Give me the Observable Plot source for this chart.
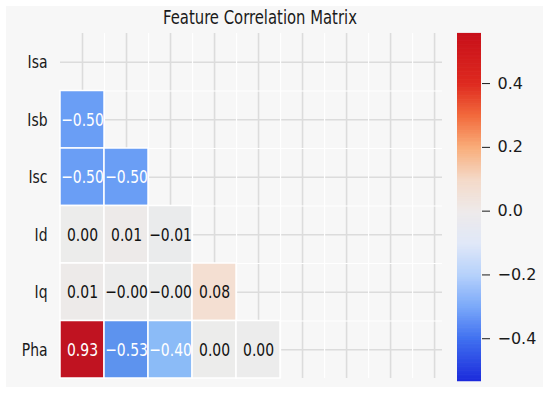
<!DOCTYPE html>
<html>
<head>
<meta charset="utf-8">
<script src="https://cdn.jsdelivr.net/npm/d3@7"></script>
<script src="https://cdn.jsdelivr.net/npm/@observablehq/plot@0.6"></script>
<style>
  html, body { margin: 0; padding: 0; background: #ffffff; }
  #wrap { position: relative; width: 550px; height: 394px; overflow: hidden; background: #ffffff; }
  #panel { position: absolute; left: 6px; top: 6px; width: 537px; height: 381px; background: #f7f7f7; }
  #title { position: absolute; left: 0; width: 520px; top: 8px; text-align: center;
           font-family: "DejaVu Sans Condensed", "DejaVu Sans", sans-serif; font-size: 16.5px; color: #1a1a1a;
           transform: scaleY(1.18); transform-origin: 50% 50%; }
  .layer { position: absolute; left: 0; top: 0; }
  svg { background: transparent !important; }
</style>
</head>
<body>
<div id="wrap">
  <div id="panel"></div>
  <div id="title">Feature Correlation Matrix</div>
  <div id="main" class="layer"></div>
  <div id="cbar" class="layer"></div>
</div>
<script>
// ---- data ----
const features = ["Isa", "Isb", "Isc", "Id", "Iq", "Pha"];
// lower-triangle correlations (row feature vs. earlier columns)
const rowIsa = [];
const rowIsb = [-0.50];
const rowIsc = [-0.50, -0.50];
const rowId  = [0.002, 0.01, -0.01];
const rowIq  = [0.01, -0.002, -0.003, 0.08];
const rowPha = [0.93, -0.53, -0.40, 0.003, 0.001];
const rowsValues = [rowIsa, rowIsb, rowIsc, rowId, rowIq, rowPha];

// grid column slots shown in the background
const gridColumns = [0, 1, 2, 3, 4, 5, 6, 7, 8];

// heatmap colour stops
const cellStops  = [-1, -0.53, -0.5, -0.4, 0, 0.1, 0.5, 1];
const cellColors = ["#3a5ee0", "#5d93ee", "#6a9ef5", "#8bbbf7", "#ececec", "#f6dccb", "#f08a6a", "#b80015"];

// colour bar
const cbMin = -0.531, cbMax = 0.557;
const cbTicks = [-0.4, -0.2, 0.0, 0.2, 0.4];
const cbStops  = [-0.531, -0.4, -0.3, -0.2, -0.1, 0, 0.1, 0.2, 0.3, 0.4, 0.557];
const cbColors = ["#1c2bdb", "#4070f0", "#7aa8f9", "#b5d1fb", "#e0e8f8", "#eeeaea",
                  "#f4d9c8", "#f9ad7a", "#f26a3c", "#de2a20", "#c8101a"];

// ---- build table ----
const cells = [];
rowsValues.forEach((vals, r) => vals.forEach((v, c) => cells.push({row: r, col: c, value: v})));
const rowIdx = features.map((d, i) => i);
const fmt = v => (v < 0 ? "\u2212" : "") + Math.abs(v).toFixed(2);
const cellFont = "'DejaVu Sans Condensed', 'DejaVu Sans', sans-serif";

const main = Plot.plot({
  width: 550,
  height: 394,
  marginLeft: 60,
  marginRight: 108,
  marginTop: 33,
  marginBottom: 16,
  style: {fontFamily: cellFont, fontSize: "15.5px", color: "#1a1a1a", background: "transparent"},
  x: {domain: [-0.5, 8.18], axis: null},
  y: {domain: [-0.5, 5.5], reverse: true, ticks: rowIdx, tickFormat: i => features[i],
      tickSize: 0, tickPadding: 13, label: null},
  color: {type: "linear", domain: cellStops, range: cellColors, interpolate: "rgb"},
  marks: [
    Plot.ruleY(rowIdx, {stroke: "#dcdcdc", strokeWidth: 1.6}),
    Plot.ruleX(gridColumns, {stroke: "#dcdcdc", strokeWidth: 1.6}),
    Plot.ruleX(gridColumns.slice(0, 8), {x: d => d + 0.5, stroke: "#ffffff", strokeWidth: 1.2}),
    Plot.ruleY(rowIdx.slice(0, 5), {y: d => d + 0.5, stroke: "#ffffff", strokeWidth: 1.2}),
    Plot.rect(cells, {
      x1: d => d.col - 0.5, x2: d => d.col + 0.5,
      y1: d => d.row - 0.5, y2: d => d.row + 0.5,
      fill: "value", stroke: "#ffffff", strokeWidth: 1.5
    }),
    Plot.text(cells, {
      x: "col", y: "row", text: d => fmt(d.value),
      fill: d => Math.abs(d.value) >= 0.3 ? "#ffffff" : "#111111",
      fontSize: 15.5, fontFamily: cellFont
    })
  ]
});
document.getElementById("main").appendChild(main);

// stretch texts vertically (the reference glyphs are taller than wide)
function stretchText(svg, k) {
  svg.querySelectorAll("text").forEach(t => {
    const b = t.getBBox();
    const cx = b.x + b.width / 2, cy = b.y + b.height / 2;
    const prev = t.getAttribute("transform") || "";
    t.setAttribute("transform", `${prev} translate(${cx},${cy}) scale(1,${k}) translate(${-cx},${-cy})`);
  });
}
stretchText(main, 1.18);

const cbSteps = d3.range(cbMin, cbMax, 0.0025);
const cbar = Plot.plot({
  width: 550,
  height: 394,
  marginLeft: 457,
  marginRight: 69,
  marginTop: 33,
  marginBottom: 14,
  style: {fontFamily: "'DejaVu Sans', sans-serif", fontSize: "16px", color: "#1a1a1a", background: "transparent"},
  x: {axis: null},
  y: {domain: [cbMin, cbMax], axis: "right", ticks: cbTicks, tickFormat: d3.format(".1f"),
      tickSize: 8, tickPadding: 8, label: null},
  color: {type: "linear", domain: cbStops, range: cbColors, interpolate: "rgb"},
  marks: [
    Plot.ruleY(cbSteps, {y: d => d, stroke: d => d, strokeWidth: 1.5})
  ]
});
document.getElementById("cbar").appendChild(cbar);
</script>
</body>
</html>
